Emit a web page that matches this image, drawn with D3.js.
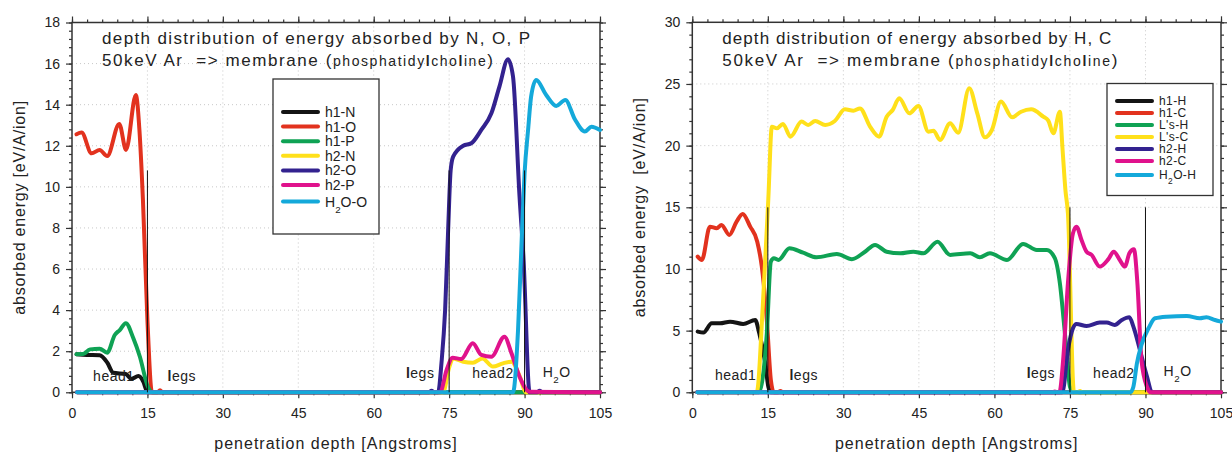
<!DOCTYPE html>
<html>
<head>
<meta charset="utf-8">
<script src="https://cdn.jsdelivr.net/npm/d3@7"></script>
<style>
    body { margin: 0; background: #fff; }
    svg { display: block; font-family: "Liberation Sans", Arial, sans-serif; }
    svg text { white-space: pre; }
    .tick text { font-size: 14px; fill: #222; }
    .grid line { stroke: #c8c8c8; stroke-dasharray: 1,3; }
</style>
</head>
<body>
<svg id="chart" width="1232" height="453"></svg>
<script>
const DEPTH_TICKS = [0, 15, 30, 45, 60, 75, 90, 105];
const LEFT_Y_TICKS = [0, 2, 4, 6, 8, 10, 12, 14, 16, 18];
const RIGHT_Y_TICKS = [0, 5, 10, 15, 20, 25, 30];

const SERIES_COLOURS = ['#141414', '#e2321e', '#0fa254', '#ffe01a', '#33228f', '#e0128c', '#14a9da'];

const LEFT_NAMES = ['h1-N', 'h1-O', 'h1-P', 'h2-N', 'h2-O', 'h2-P', 'H2O-O'];
const RIGHT_NAMES = ['h1-H', 'h1-C', "L's-H", "L's-C", 'h2-H', 'h2-C', 'H2O-H'];

// left panel: energy absorbed by N, O, P  [depth, eV/A/ion]
const h1N = [[0.9, 1.85], [3, 1.82], [5.5, 1.8], [7, 1.45], [8.2, 0.95], [10.7, 0.89], [11.8, 0.65], [13.2, 0.79],
    [14.2, 0.5], [14.8, 0.1], [15.3, 0], [105, 0]];
const h1O = [[0.9, 12.56], [1.9, 12.64], [3.9, 11.63], [5.5, 11.8], [7, 11.5], [9.4, 13.06], [10.75, 11.8], [12.7, 14.47],
    [13.4, 12.8], [14.1, 9.4], [15, 3.5], [15.9, 0], [17, 0], [17.5, 0.1], [18, 0], [105, 0]];
const h1P = [[0.9, 1.85], [2.2, 1.86], [3.6, 2.09], [5.5, 2.12], [7, 1.93], [8.5, 2.79], [9.5, 3.03], [10.7, 3.36],
    [12.2, 2.63], [13.5, 1.73], [15.1, 0.27], [16, 0], [105, 0]];
const h2N = [[1, 0], [73.8, 0], [75, 1.2], [75.8, 1.65], [77.8, 1.49], [79.7, 1.44], [81.6, 1.65], [83.7, 1.25],
    [85.7, 1.41], [87.4, 1.49], [89, 0.8], [90.3, 0], [105, 0]];
const h2O = [[1, 0], [71, 0], [71.5, 0.08], [72, 0], [72.8, 0], [73.5, 1.5], [74.2, 4], [74.8, 7.9], [75.3, 10.8],
    [75.8, 11.47], [77.8, 12.0], [79.4, 12.12], [81.4, 12.77], [83.4, 13.58], [85, 14.88], [86.7, 16.21], [87.7, 15.37],
    [89, 9.52], [89.8, 6.44], [91, 0], [92.5, 0], [93, 0.08], [93.5, 0], [105, 0]];
const h2P = [[1, 0], [73.2, 0], [74.5, 1.09], [75.7, 1.68], [77.4, 1.62], [79.7, 2.39], [81.4, 1.82], [83.4, 1.73],
    [86, 2.71], [87.4, 1.9], [89, 0.76], [91, 0.03], [105, 0]];
const h2oO = [[1, 0], [87.7, 0], [88.7, 3.03], [89.5, 7.9], [90, 10.66], [90.7, 12.77], [91.3, 14.39], [92.3, 15.2],
    [94.3, 14.47], [96.3, 13.94], [98.1, 14.23], [100, 13.29], [102, 12.69], [103.3, 12.93], [105, 12.77]];

// right panel: energy absorbed by H, C
const h1H = [[1.07, 4.92], [2.2, 4.84], [3.85, 5.6], [5.5, 5.6], [7.5, 5.73], [10.1, 5.54], [12.5, 5.86], [13.3, 4.78],
    [14.4, 2.6], [15.1, 0.45], [15.6, 0], [105, 0]];
const h1C = [[1.07, 11.0], [1.9, 10.73], [3.5, 13.43], [4.85, 13.3], [5.8, 13.57], [7.35, 12.76], [8.8, 13.84],
    [10, 14.46], [11.5, 13.43], [12.9, 12.21], [13.8, 10.19], [14.8, 5.86], [15.6, 1.0], [16.2, 0], [17, 0],
    [17.5, 0.1], [18, 0], [105, 0]];
const lsH = [[1, 0], [13.2, 0], [14.8, 4.78], [15.6, 10.6], [16.2, 10.87], [17.1, 10.73], [19.3, 11.68], [22, 11.32],
    [24.7, 10.95], [28.7, 11.22], [31.7, 10.79], [34.3, 11.4], [36.3, 11.95], [38.6, 11.4], [41.3, 11.27],
    [43.9, 11.4], [45.9, 11.27], [48.7, 12.21], [51.2, 11.14], [55.2, 11.27], [57.1, 10.95], [59.1, 11.27],
    [62.5, 10.73], [65.7, 12.03], [68.4, 11.54], [70.4, 11.54], [72, 10.87], [73, 8.84], [74, 4.78], [75, 0.45],
    [75.6, 0], [105, 0]];
const lsC = [[1, 0], [12.8, 0], [14, 7], [15.1, 15.7], [15.8, 21.54], [16.8, 21.4], [18, 21.76], [19.5, 20.73],
    [21.7, 21.95], [23, 21.68], [24.4, 22.0], [26.4, 21.68], [28.3, 22.0], [30.3, 22.94], [32, 22.83], [33.3, 23.02],
    [35.3, 21.54], [37.1, 20.73], [38.6, 22.35], [39.8, 22.89], [41.1, 23.84], [43.1, 22.62], [44.9, 23.22],
    [46.9, 21.13], [47.9, 21.2], [49.2, 20.46], [51.2, 21.81], [52.8, 21.05], [55, 24.65], [56.6, 22.62],
    [58.1, 20.67], [59.5, 21.27], [61.3, 23.57], [63.5, 22.3], [65.3, 22.75], [67.3, 22.94], [69.7, 22.35],
    [70.7, 22.03], [71.7, 21.0], [73, 22.75], [73.5, 19.9], [74.1, 16.4], [74.6, 14.5], [75.8, 0], [76.6, 0],
    [77, 0.1], [77.4, 0], [105, 0]];
const h2H = [[1, 0], [73.5, 0], [74.6, 3.43], [75.6, 5.19], [76.3, 5.54], [78.3, 5.38], [80.9, 5.65], [82.3, 5.65],
    [83.9, 5.46], [85.3, 5.86], [86.8, 6.08], [87.6, 5.32], [88.9, 3.43], [90.3, 1.27], [91.3, 0], [105, 0]];
const h2C = [[1, 0], [71.5, 0], [72, 0.06], [72.5, 0], [72.9, 0], [73.7, 2.89], [74.6, 8.84], [75.6, 12.89],
    [76.3, 13.43], [77.3, 12.35], [78.3, 11.4], [79.3, 11.14], [80.9, 10.19], [82.6, 10.78], [83.7, 11.4],
    [84.9, 10.73], [85.9, 10.19], [86.8, 11.27], [87.7, 11.6], [88.4, 8.84], [89.2, 2.62], [90.3, 0.45],
    [91, 0], [105, 0]];
const h2oH = [[1, 0], [87, 0], [87.6, 0.45], [88.3, 2.35], [89.2, 3.84], [90.6, 5.19], [91.9, 6.0], [94.2, 6.13],
    [98.2, 6.19], [100.8, 6.0], [102.1, 6.08], [103.8, 5.86], [105, 5.73]];

const LEFT_SERIES = [h1N, h1O, h1P, h2N, h2O, h2P, h2oO];
const RIGHT_SERIES = [h1H, h1C, lsH, lsC, h2H, h2C, h2oH];

const MARKER_DEPTHS = [15, 75, 90];

const svg = d3.select('#chart');

function subscriptLabel(sel, name) {
    // "H2O-x" gets a subscript 2
    if (name.startsWith('H2O')) {
        sel.append('tspan').text('H');
        sel.append('tspan').attr('baseline-shift', 'sub').style('font-size', '0.7em').text('2');
        sel.append('tspan').text(name.slice(2));
    } else {
        sel.text(name);
    }
}

function boldL(sel, word) {
    // the "l" shows up heavier in the source picture
    word.split('').forEach(ch => {
        const t = sel.append('tspan').text(ch);
        if (ch === 'l') t.style('font-weight', 'bold');
    });
}

function drawPanel(p) {
    const x = d3.scaleLinear().domain([0, 105]).range([p.left, p.right]);
    const y = d3.scaleLinear().domain([0, p.yMax]).range([p.bottom, p.top]);
    const g = svg.append('g');

    // grid
    const grid = g.append('g').attr('class', 'grid');
    grid.selectAll('.gx').data(DEPTH_TICKS.slice(1, -1)).join('line')
        .attr('x1', d => x(d)).attr('x2', d => x(d)).attr('y1', p.top).attr('y2', p.bottom);
    grid.selectAll('.gy').data(p.yTicks.slice(1, -1)).join('line')
        .attr('x1', p.left).attr('x2', p.right).attr('y1', d => y(d)).attr('y2', d => y(d));

    // axes
    const minorX = d3.range(0, 106, 3);
    const minorY = d3.range(0, p.yMax + 0.001, p.yMinor);
    const axisStyle = a => {
        a.select('.domain').remove();
        a.selectAll('line').attr('stroke', '#333').attr('stroke-width', 1.2);
    };
    g.append('g').attr('transform', `translate(0,${p.bottom})`)
        .call(d3.axisBottom(x).tickValues(DEPTH_TICKS).tickSize(6).tickPadding(10)).call(axisStyle);
    g.append('g').attr('transform', `translate(0,${p.bottom})`)
        .call(d3.axisBottom(x).tickValues(minorX).tickSize(3).tickFormat('')).call(axisStyle);
    g.append('g').attr('transform', `translate(0,${p.top})`)
        .call(d3.axisTop(x).tickValues(DEPTH_TICKS).tickSize(6).tickFormat('')).call(axisStyle);
    g.append('g').attr('transform', `translate(0,${p.top})`)
        .call(d3.axisTop(x).tickValues(minorX).tickSize(3).tickFormat('')).call(axisStyle);
    g.append('g').attr('transform', `translate(${p.left},0)`)
        .call(d3.axisLeft(y).tickValues(p.yTicks).tickSize(6).tickPadding(6)).call(axisStyle);
    g.append('g').attr('transform', `translate(${p.left},0)`)
        .call(d3.axisLeft(y).tickValues(minorY).tickSize(3).tickFormat('')).call(axisStyle);
    g.append('g').attr('transform', `translate(${p.right},0)`)
        .call(d3.axisRight(y).tickValues(p.yTicks).tickSize(6).tickFormat('')).call(axisStyle);
    g.append('g').attr('transform', `translate(${p.right},0)`)
        .call(d3.axisRight(y).tickValues(minorY).tickSize(3).tickFormat('')).call(axisStyle);

    g.append('rect')
        .attr('x', p.left).attr('y', p.top)
        .attr('width', p.right - p.left).attr('height', p.bottom - p.top)
        .attr('fill', 'none').attr('stroke', '#333').attr('stroke-width', 1.5);

    // series
    const line = d3.line()
        .x(d => x(d[0]))
        .y(d => y(d[1]))
        .curve(d3.curveMonotoneX);
    p.series.forEach((s, i) => {
        g.append('path')
            .attr('d', line(s))
            .attr('fill', 'none')
            .attr('stroke', SERIES_COLOURS[i])
            .attr('stroke-width', 4)
            .attr('stroke-linejoin', 'round')
            .attr('stroke-linecap', 'round');
    });

    // region markers
    g.selectAll('.marker').data(MARKER_DEPTHS).join('line')
        .attr('x1', d => x(d)).attr('x2', d => x(d))
        .attr('y1', y(0)).attr('y2', y(p.markerHeight))
        .attr('stroke', '#111').attr('stroke-width', 1);

    // region labels
    p.regions.forEach(r => {
        const t = g.append('text')
            .attr('x', x(r.at)).attr('y', y(0) - r.dy)
            .style('font-size', '14px').attr('fill', '#222')
            .attr('letter-spacing', 0.5);
        if (r.name === 'legs') boldL(t, r.name);
        else subscriptLabel(t, r.name);
    });

    // title
    svg.append('text')
        .attr('x', p.left + 30).attr('y', 43.5)
        .attr('textLength', p.titleLen).attr('lengthAdjust', 'spacing')
        .style('font-size', '17px').attr('fill', '#222')
        .text(p.title);
    const t2 = svg.append('text')
        .attr('x', p.left + 30).attr('y', 66)
        .attr('textLength', p.subtitleLen).attr('lengthAdjust', 'spacing')
        .style('font-size', '17px').attr('fill', '#222');
    t2.append('tspan').text('50keV Ar  => membrane (');
    const t2b = t2.append('tspan').style('font-size', '14px');
    boldL(t2b, 'phosphatidylcholine');
    t2.append('tspan').text(')');

    // axis titles
    svg.append('text')
        .attr('transform', `translate(${p.left - 47},${(p.top + p.bottom) / 2}) rotate(-90)`)
        .attr('text-anchor', 'middle')
        .style('font-size', '16px').attr('fill', '#222').attr('letter-spacing', 0.8)
        .text(p.yLabel);
    svg.append('text')
        .attr('x', (p.left + p.right) / 2 + 0).attr('y', 449)
        .attr('text-anchor', 'middle')
        .style('font-size', '16px').attr('fill', '#222').attr('letter-spacing', 1)
        .text('penetration depth [Angstroms]');

    // legend
    const lg = svg.append('g');
    lg.append('rect')
        .attr('x', p.legend.x).attr('y', p.legend.y)
        .attr('width', p.legend.w).attr('height', p.legend.h)
        .attr('fill', '#fff').attr('stroke', '#333').attr('stroke-width', 1.3);
    p.names.forEach((name, i) => {
        const ry = p.legend.y + p.legend.first + i * p.legend.step + (i === 6 ? 2 : 0);
        lg.append('line')
            .attr('x1', p.legend.x + 10).attr('x2', p.legend.x + 45)
            .attr('y1', ry).attr('y2', ry)
            .attr('stroke', SERIES_COLOURS[i]).attr('stroke-width', 4).attr('stroke-linecap', 'round');
        const t = lg.append('text')
            .attr('x', p.legend.x + 52).attr('y', ry + p.legend.font * 0.36)
            .style('font-size', p.legend.font + 'px').attr('fill', '#222')
            .attr('letter-spacing', p.legend.spacing);
        subscriptLabel(t, name);
    });
}

drawPanel({
    left: 72, right: 600, top: 22.5, bottom: 392.3,
    yMax: 18, yTicks: LEFT_Y_TICKS, yMinor: 0.4, markerHeight: 10.8,
    series: LEFT_SERIES, names: LEFT_NAMES,
    title: 'depth distribution of energy absorbed by N, O, P', titleLen: 428, subtitleLen: 391,
    yLabel: 'absorbed energy [eV/A/ion]',
    legend: { x: 273, y: 79, w: 106, h: 155, first: 33, step: 14.6, font: 14, spacing: 0 },
    regions: [
        { name: 'head1', at: 4.2, dy: 11 },
        { name: 'legs', at: 19, dy: 11 },
        { name: 'legs', at: 66.4, dy: 14 },
        { name: 'head2', at: 79.6, dy: 14 },
        { name: 'H2O', at: 93.6, dy: 15.5 }
    ]
});

drawPanel({
    left: 692.3, right: 1221, top: 22.3, bottom: 392.3,
    yMax: 30, yTicks: RIGHT_Y_TICKS, yMinor: 1, markerHeight: 15,
    series: RIGHT_SERIES, names: RIGHT_NAMES,
    title: 'depth distribution of energy absorbed by H, C', titleLen: 389, subtitleLen: 395,
    yLabel: 'absorbed energy  [eV/A/ion]',
    legend: { x: 1107, y: 83.5, w: 106, h: 112, first: 17.5, step: 12, font: 12, spacing: 0.4 },
    regions: [
        { name: 'head1', at: 4.5, dy: 12 },
        { name: 'legs', at: 19.3, dy: 12 },
        { name: 'legs', at: 66.4, dy: 14.5 },
        { name: 'head2', at: 79.6, dy: 14.5 },
        { name: 'H2O', at: 93.6, dy: 16.5 }
    ]
});
</script>
</body>
</html>
